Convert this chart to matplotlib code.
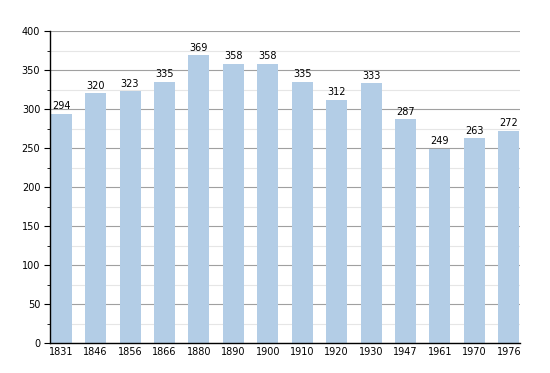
import matplotlib
matplotlib.use("Agg")
import matplotlib.pyplot as plt
from matplotlib.ticker import MultipleLocator

years = ["1831", "1846", "1856", "1866", "1880", "1890", "1900", "1910", "1920", "1930", "1947", "1961", "1970", "1976"]
population = [294, 320, 323, 335, 369, 358, 358, 335, 312, 333, 287, 249, 263, 272]

fig = plt.figure(figsize=(5.5, 3.73), dpi=100)
ax = fig.add_axes([50/550, 1-343/373, 470/550, 312/373])

x = list(range(len(years)))
w = 0.61
ax.bar(x, population, width=w, color="#b3cde6", zorder=2)
for xi, v in zip(x, population):
    ax.text(xi, v + 3, str(v), ha="center", va="bottom", fontsize=7, color="black", zorder=3)

ax.set_xlim(-w/2 - 0.02, len(years) - 1 + w/2 + 0.02)
ax.set_ylim(0, 400)
ax.yaxis.set_major_locator(MultipleLocator(50))
ax.yaxis.set_minor_locator(MultipleLocator(25))
ax.grid(axis="y", which="major", color="#a0a0a0", linewidth=0.8, zorder=0)
ax.grid(axis="y", which="minor", color="#e6e6e6", linewidth=0.8, zorder=0)
ax.set_axisbelow(True)
ax.set_xticks(x)
ax.set_xticklabels(years, fontsize=7)
ax.tick_params(axis="x", length=0, pad=3)
ax.tick_params(axis="y", which="major", length=4, labelsize=7, pad=3)
ax.tick_params(axis="y", which="minor", length=2)
for s in ["top", "right"]:
    ax.spines[s].set_visible(False)
ax.spines["left"].set_linewidth(1.0)
ax.spines["bottom"].set_linewidth(1.0)

fig.savefig("out.png", dpi=100)
